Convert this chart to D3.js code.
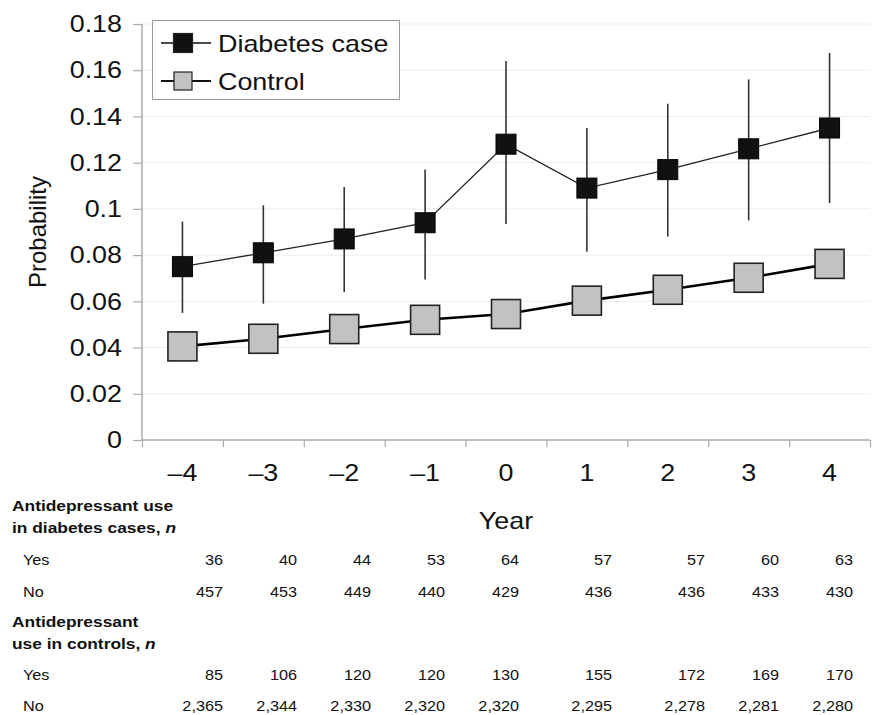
<!DOCTYPE html>
<html>
<head>
<meta charset="utf-8">
<script src="https://cdn.jsdelivr.net/npm/d3@7"></script>
<style>
  body { margin: 0; background: #fff; }
  svg { display: block; font-family: "Liberation Sans", Arial, sans-serif; }
</style>
</head>
<body>
<svg id="chart" width="873" height="715"></svg>
<script>
// ----- data -----
let years = [-4, -3, -2, -1, 0, 1, 2, 3, 4];
let casesProb = [0.075, 0.081, 0.087, 0.094, 0.128, 0.109, 0.117, 0.126, 0.135];
let casesLow = [0.055, 0.059, 0.064, 0.0695, 0.0935, 0.0815, 0.088, 0.095, 0.1025];
let casesHigh = [0.0945, 0.1015, 0.1095, 0.117, 0.164, 0.135, 0.1455, 0.156, 0.1675];
let controlProb = [0.0405, 0.0438, 0.048, 0.052, 0.0545, 0.0603, 0.065, 0.0702, 0.0762];
let yTicks = [0, 0.02, 0.04, 0.06, 0.08, 0.1, 0.12, 0.14, 0.16, 0.18];

let casesYes = [36, 40, 44, 53, 64, 57, 57, 60, 63];
let casesNo = [457, 453, 449, 440, 429, 436, 436, 433, 430];
let controlYes = [85, 106, 120, 120, 130, 155, 172, 169, 170];
let controlNo = [2365, 2344, 2330, 2320, 2320, 2295, 2278, 2281, 2280];

// ----- layout -----
let svg = d3.select("#chart");
let plotLeft = 142, plotRight = 870, plotTop = 24, plotBottom = 440;
let stretchK = 1.12; // the figure's type is a bit wider than Arial

let x = d3.scaleBand().domain(years).range([plotLeft, plotRight]).padding(0);
let xEdge = d3.scaleLinear().domain([0, years.length]).range([plotLeft, plotRight]);
let y = d3.scaleLinear().domain([0, 0.18]).range([plotBottom, plotTop]);
let cx = d => x(d) + x.bandwidth() / 2;
let yearLabel = d => (d < 0 ? "\u2013" + Math.abs(d) : String(d));

function stretch(sel) {
    sel.each(function() {
        let w = this.getComputedTextLength();
        this.setAttribute("textLength", w * stretchK);
        this.setAttribute("lengthAdjust", "spacingAndGlyphs");
    });
}

// gridlines
svg.append("g")
    .selectAll("line")
    .data(yTicks.slice(1))
    .enter()
    .append("line")
    .attr("x1", plotLeft).attr("x2", plotRight)
    .attr("y1", d => y(d)).attr("y2", d => y(d))
    .attr("stroke", "#ececec")
    .attr("stroke-width", 1);

// y axis
let axisY = d3.axisLeft(y).tickValues(yTicks).tickFormat(d => String(d)).tickSize(9).tickPadding(11);
let gY = svg.append("g").attr("transform", `translate(${plotLeft},0)`).call(axisY);
gY.select(".domain").attr("stroke", "#aaa").attr("stroke-width", 1.5).attr("d", `M0,${plotTop}V${plotBottom}`);
gY.selectAll(".tick line").attr("stroke", "#aaa").attr("stroke-width", 1.2);
gY.selectAll("text").attr("font-size", 24).attr("fill", "#111");
gY.attr("font-family", null);

// x axis: tick marks at band edges, labels at centres
let axisXEdge = d3.axisBottom(xEdge).tickValues(d3.range(years.length + 1)).tickFormat("").tickSize(7);
let gXE = svg.append("g").attr("transform", `translate(0,${plotBottom})`).call(axisXEdge);
gXE.select(".domain").attr("stroke", "#aaa").attr("stroke-width", 1.5).attr("d", `M${plotLeft},0H${plotRight}`);
gXE.selectAll(".tick line").attr("stroke", "#aaa").attr("stroke-width", 1.2);

let axisX = d3.axisBottom(x).tickFormat(yearLabel).tickSize(0).tickPadding(24);
let gX = svg.append("g").attr("transform", `translate(0,${plotBottom})`).call(axisX);
gX.select(".domain").remove();
gX.selectAll("text").attr("font-size", 24).attr("fill", "#111");
gX.attr("font-family", null);

// axis titles
svg.append("text")
    .attr("transform", `translate(46,${(plotTop + plotBottom) / 2}) rotate(-90)`)
    .attr("text-anchor", "middle")
    .attr("font-size", 24)
    .attr("fill", "#111")
    .text("Probability");

let yearTitle = svg.append("text")
    .attr("x", 506).attr("y", 529)
    .attr("text-anchor", "middle")
    .attr("font-size", 24)
    .attr("fill", "#111")
    .text("Year");

// control series
let lineGen = d3.line().x((d, i) => cx(years[i])).y(d => y(d));
svg.append("path")
    .datum(controlProb)
    .attr("d", lineGen)
    .attr("fill", "none")
    .attr("stroke", "#000")
    .attr("stroke-width", 2.6);

let sq = 29;
svg.append("g")
    .selectAll("rect")
    .data(controlProb)
    .enter()
    .append("rect")
    .attr("x", (d, i) => cx(years[i]) - sq / 2)
    .attr("y", d => y(d) - sq / 2)
    .attr("width", sq).attr("height", sq)
    .attr("fill", "#c2c2c2")
    .attr("stroke", "#222")
    .attr("stroke-width", 1.6);

// diabetes series: error bars, line, markers
svg.append("g")
    .selectAll("line")
    .data(years)
    .enter()
    .append("line")
    .attr("x1", d => cx(d)).attr("x2", d => cx(d))
    .attr("y1", (d, i) => y(casesLow[i]))
    .attr("y2", (d, i) => y(casesHigh[i]))
    .attr("stroke", "#333")
    .attr("stroke-width", 1.6);

svg.append("path")
    .datum(casesProb)
    .attr("d", lineGen)
    .attr("fill", "none")
    .attr("stroke", "#222")
    .attr("stroke-width", 1.3);

let sqB = 20;
svg.append("g")
    .selectAll("rect")
    .data(casesProb)
    .enter()
    .append("rect")
    .attr("x", (d, i) => cx(years[i]) - sqB / 2)
    .attr("y", d => y(d) - sqB / 2)
    .attr("width", sqB).attr("height", sqB)
    .attr("fill", "#111")
    .attr("stroke", "#000")
    .attr("stroke-width", 1);

// legend
let legend = svg.append("g");
legend.append("rect")
    .attr("x", 152.5).attr("y", 20.5)
    .attr("width", 247).attr("height", 79)
    .attr("fill", "#fff")
    .attr("stroke", "#999")
    .attr("stroke-width", 1);

let legendItems = [
    { name: "Diabetes case", fill: "#111", size: 19, width: 1.3, ly: 43 },
    { name: "Control", fill: "#c2c2c2", size: 18, width: 1.8, ly: 81 }
];
legendItems.forEach(item => {
    legend.append("line")
        .attr("x1", 161).attr("x2", 211)
        .attr("y1", item.ly).attr("y2", item.ly)
        .attr("stroke", "#111")
        .attr("stroke-width", item.width);
    legend.append("rect")
        .attr("x", 183 - item.size / 2).attr("y", item.ly - item.size / 2)
        .attr("width", item.size).attr("height", item.size)
        .attr("fill", item.fill)
        .attr("stroke", "#222")
        .attr("stroke-width", 1.2);
    legend.append("text")
        .attr("class", "wide")
        .attr("x", 218).attr("y", item.ly + 8.5)
        .attr("font-size", 24)
        .attr("fill", "#111")
        .text(item.name);
});

// ----- counts table -----
// column right edges follow the original typeset table
let col = d3.scaleLinear().domain([-4, 0, 2, 4]).range([223, 519, 705, 853]);
let fmt = d3.format(",");
let table = svg.append("g").attr("fill", "#111");

function header(lines, yy) {
    lines.forEach((txt, k) => {
        let t = table.append("text")
            .attr("class", "wide")
            .attr("x", 12).attr("y", yy + k * 22)
            .attr("font-size", 15.5)
            .attr("font-weight", "bold");
        if (txt.endsWith(", n")) {
            t.append("tspan").text(txt.slice(0, -1));
            t.append("tspan").attr("font-style", "italic").text("n");
        } else {
            t.text(txt);
        }
    });
}

function row(label, values, yy) {
    table.append("text")
        .attr("class", "wide")
        .attr("x", 23).attr("y", yy)
        .attr("font-size", 14.5)
        .text(label);
    table.append("g")
        .selectAll("text")
        .data(values)
        .enter()
        .append("text")
        .attr("class", "wide")
        .attr("x", (d, i) => col(years[i]))
        .attr("y", yy)
        .attr("text-anchor", "end")
        .attr("font-size", 14.5)
        .text(d => fmt(d));
}

header(["Antidepressant use", "in diabetes cases, n"], 511);
row("Yes", casesYes, 565);
row("No", casesNo, 597);
header(["Antidepressant", "use in controls, n"], 627);
row("Yes", controlYes, 680);
row("No", controlNo, 711);

// widen the horizontal type
gY.selectAll("text").call(stretch);
gX.selectAll("text").call(stretch);
yearTitle.call(stretch);
svg.selectAll("text.wide").call(stretch);
</script>
</body>
</html>
